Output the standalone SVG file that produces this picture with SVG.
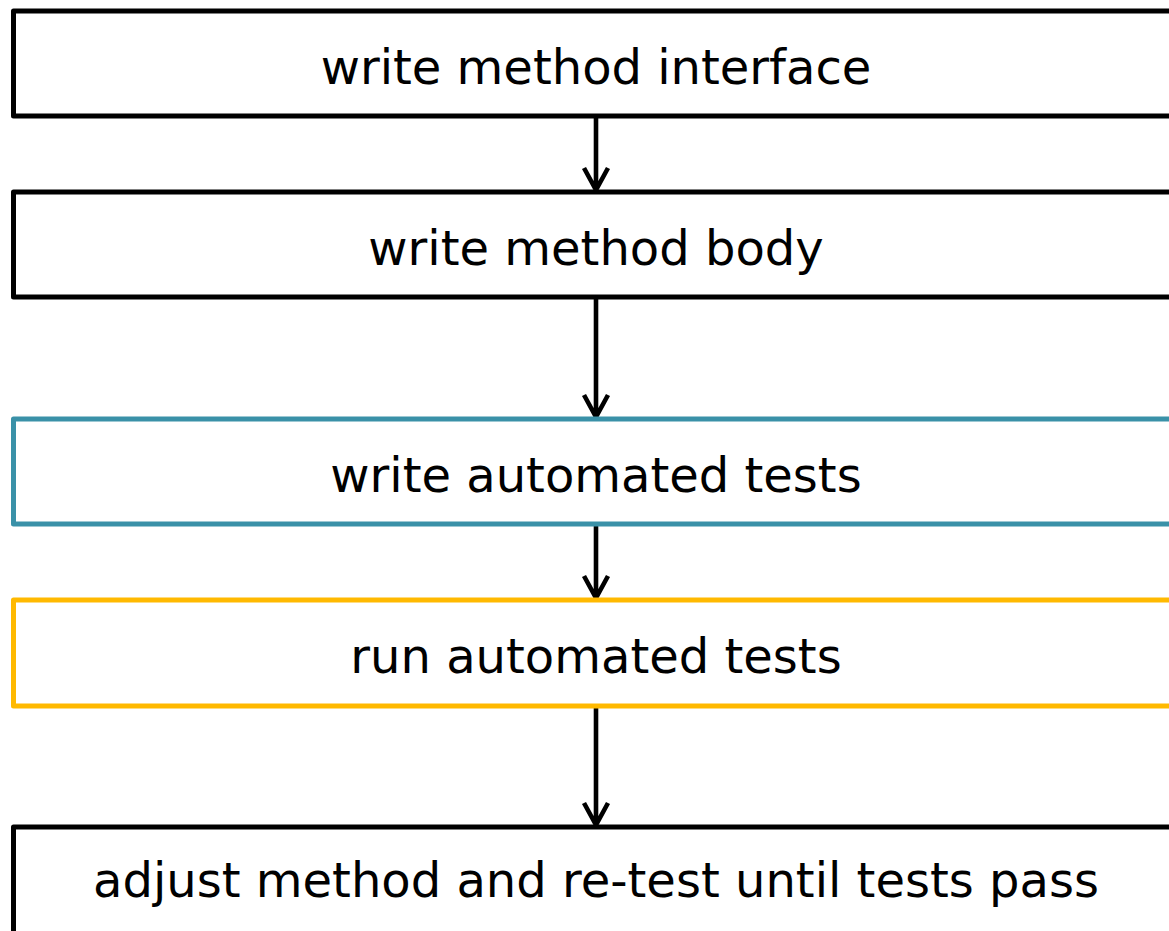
<svg xmlns="http://www.w3.org/2000/svg" width="1169" height="931" viewBox="0 0 1169 931">
<style>
.box{fill:#ffffff;stroke-width:5;stroke-linejoin:round}
.k{stroke:#000000}
.teal{stroke:#3a91a8}
.yel{stroke:#ffb900}
.lbl{font-family:"DejaVu Sans",sans-serif;font-size:48px;fill:#000000;text-anchor:middle}
.c{fill:none;stroke:#000000;stroke-width:4.6;stroke-linejoin:miter}
</style>
<rect width="1169" height="931" fill="#ffffff"/>
<g id="connectors">
<path class="c" d="M596,116 V188 M584,168 L596,190 L608,168"/>
<path class="c" d="M596,297 V415 M584,395 L596,417 L608,395"/>
<path class="c" d="M596,524 V596 M584,576 L596,598 L608,576"/>
<path class="c" d="M596,706 V823 M584,803 L596,825 L608,803"/>
</g>
<g id="n1"><rect class="box k" x="13.5" y="11" width="1166" height="105"/><text class="lbl" x="596" y="83.5">write method interface</text></g>
<g id="n2"><rect class="box k" x="13.5" y="192" width="1166" height="105"/><text class="lbl" x="596" y="264.5">write method body</text></g>
<g id="n3"><rect class="box teal" x="13.5" y="419" width="1166" height="105"/><text class="lbl" x="596" y="491.5">write automated tests</text></g>
<g id="n4"><rect class="box yel" x="13.5" y="600" width="1166" height="106"/><text class="lbl" x="596" y="672.5">run automated tests</text></g>
<g id="n5"><rect class="box k" x="13.5" y="827" width="1166" height="110"/><text class="lbl" x="596" y="897">adjust method and re-test until tests pass</text></g>
</svg>
